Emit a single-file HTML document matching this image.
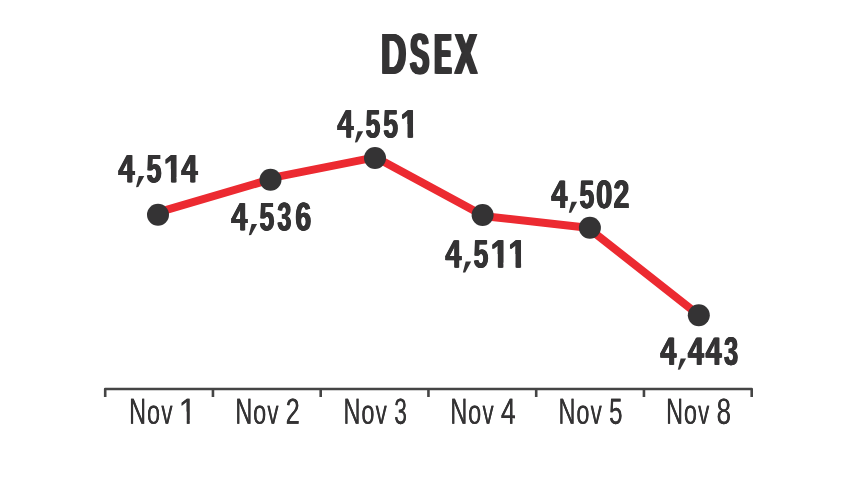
<!DOCTYPE html>
<html><head><meta charset="utf-8"><title>DSEX</title>
<style>
html,body{margin:0;padding:0;background:#fff;width:857px;height:482px;overflow:hidden}
svg{display:block;will-change:transform}
text{font-family:"Liberation Sans",sans-serif;font-kerning:none;text-rendering:geometricPrecision}
</style></head><body>
<svg width="857" height="482" viewBox="0 0 857 482">
<defs><clipPath id="b4_39_68_0" clipPathUnits="userSpaceOnUse"><rect x="-77.50" y="-5.81" width="155.00" height="77.50"/></clipPath><clipPath id="b4_39_68_1" clipPathUnits="userSpaceOnUse"><rect x="-77.50" y="-9.86" width="155.00" height="4.55"/></clipPath><clipPath id="b4_39_68_2" clipPathUnits="userSpaceOnUse"><rect x="-77.50" y="-77.50" width="155.00" height="68.14"/></clipPath><clipPath id="c3" clipPathUnits="userSpaceOnUse"><polygon points="1.55,-31.00 15.87,-31.00 15.87,-4.82 14.71,-4.82 14.71,-4.05 14.71,-4.05 14.71,1.94 9.49,1.94 9.49,-4.05 9.26,-4.05 9.26,-13.56 1.55,-13.56"/></clipPath><clipPath id="c4" clipPathUnits="userSpaceOnUse"><polygon points="1.55,-31.00 15.87,-31.00 15.87,-4.82 14.71,-4.82 14.71,-4.05 14.71,-4.05 14.71,1.94 9.49,1.94 9.49,-4.05 9.26,-4.05 9.26,-13.56 1.55,-13.56"/></clipPath><clipPath id="c5" clipPathUnits="userSpaceOnUse"><polygon points="1.55,-31.00 15.87,-31.00 15.87,-4.82 14.71,-4.82 14.71,-4.05 14.71,-4.05 14.71,1.94 9.49,1.94 9.49,-4.05 9.26,-4.05 9.26,-13.56 1.55,-13.56"/></clipPath><clipPath id="c6" clipPathUnits="userSpaceOnUse"><polygon points="1.55,-31.00 15.87,-31.00 15.87,-4.82 14.71,-4.82 14.71,-4.05 14.71,-4.05 14.71,1.94 9.49,1.94 9.49,-4.05 9.26,-4.05 9.26,-13.56 1.55,-13.56"/></clipPath><clipPath id="c7" clipPathUnits="userSpaceOnUse"><polygon points="2.43,-28.39 13.41,-28.39 13.41,-3.42 12.35,-3.42 12.35,-2.71 12.35,-2.71 12.35,1.77 9.35,1.77 9.35,-2.71 9.14,-2.71 9.14,-12.42 2.43,-12.42"/></clipPath></defs>
<rect width="857" height="482" fill="#ffffff"/>
<path d="M105.20,397 L105.20,389 L751.70,389 L751.70,397 M212.95,389 L212.95,397 M320.70,389 L320.70,397 M428.45,389 L428.45,397 M536.20,389 L536.20,397 M643.95,389 L643.95,397" fill="none" stroke="#454545" stroke-width="2.6" stroke-linecap="butt" stroke-linejoin="round"/>
<path d="M158.0,212.3 L270.5,179.4 L270.5,178.2 L375.0,157.4 L375.0,157.0 L482.6,215.3 L482.6,216.0 L589.9,228.0 L589.9,229.3 L698.8,315.2" fill="none" stroke="#ec2a31" stroke-width="8.0" stroke-linejoin="round"/>
<g fill="#343334"><circle cx="158.0" cy="214.8" r="11"/><circle cx="270.5" cy="179.7" r="11"/><circle cx="375.0" cy="158.0" r="11"/><circle cx="482.6" cy="215.0" r="11"/><circle cx="589.9" cy="227.8" r="11"/><circle cx="698.8" cy="315.2" r="11"/></g>
<g fill="#343334" font-family="Liberation Sans, sans-serif">
<g><text id="g0" transform="translate(379.83,73.80) scale(0.6117,1.0000) skewY(0.1)" font-size="57.85" font-weight="bold">D</text><use href="#g0" x="0.73"/><use href="#g0" x="1.47"/><use href="#g0" x="2.20"/><text id="g1" transform="translate(408.68,73.80) scale(0.4934,1.0000) skewY(0.1)" font-size="57.85" font-weight="bold">S</text><use href="#g1" x="0.93"/><use href="#g1" x="1.87"/><use href="#g1" x="2.80"/><text id="g2" transform="translate(433.05,73.80) scale(0.4252,1.0000) skewY(0.1)" font-size="57.85" font-weight="bold">E</text><use href="#g2" x="1.17"/><use href="#g2" x="2.33"/><use href="#g2" x="3.50"/><text id="g3" transform="translate(453.61,73.80) scale(0.5670,1.0000) skewY(0.1)" font-size="57.85" font-weight="bold">X</text><use href="#g3" x="0.93"/><use href="#g3" x="1.87"/><use href="#g3" x="2.80"/></g>
<g><text id="g4" transform="translate(117.86,182.30) scale(0.7246,1.3380) skewY(0.1)" font-size="39.68" font-weight="bold" clip-path="url(#b4_39_68_0)">4</text><use href="#g4" x="0.43"/><use href="#g4" x="0.87"/><use href="#g4" x="1.30"/><text id="g5" transform="translate(117.86,180.42) scale(0.7246,1.0000) skewY(0.1)" font-size="39.68" font-weight="bold" clip-path="url(#b4_39_68_1)">4</text><use href="#g5" x="0.43"/><use href="#g5" x="0.87"/><use href="#g5" x="1.30"/><text id="g6" transform="translate(117.86,179.40) scale(0.7246,0.8938) skewY(0.1)" font-size="39.68" font-weight="bold" clip-path="url(#b4_39_68_2)">4</text><use href="#g6" x="0.43"/><use href="#g6" x="0.87"/><use href="#g6" x="1.30"/><path d="M138.80,176.10 L144.30,176.10 L138.30,187.10 L136.00,187.20 Z"/><text id="g7" transform="translate(146.09,182.30) scale(0.6635,1.0000) skewY(0.1)" font-size="39.68" font-weight="bold">5</text><use href="#g7" x="0.43"/><use href="#g7" x="0.87"/><use href="#g7" x="1.30"/><text id="g8" transform="translate(163.18,182.30) scale(0.8171,1.0000) skewY(0.1)" font-size="39.68" font-weight="bold" clip-path="url(#c3)">1</text><use href="#g8" x="0.43"/><use href="#g8" x="0.87"/><use href="#g8" x="1.30"/><text id="g9" transform="translate(180.86,182.30) scale(0.7246,1.3380) skewY(0.1)" font-size="39.68" font-weight="bold" clip-path="url(#b4_39_68_0)">4</text><use href="#g9" x="0.43"/><use href="#g9" x="0.87"/><use href="#g9" x="1.30"/><text id="g10" transform="translate(180.86,180.42) scale(0.7246,1.0000) skewY(0.1)" font-size="39.68" font-weight="bold" clip-path="url(#b4_39_68_1)">4</text><use href="#g10" x="0.43"/><use href="#g10" x="0.87"/><use href="#g10" x="1.30"/><text id="g11" transform="translate(180.86,179.40) scale(0.7246,0.8938) skewY(0.1)" font-size="39.68" font-weight="bold" clip-path="url(#b4_39_68_2)">4</text><use href="#g11" x="0.43"/><use href="#g11" x="0.87"/><use href="#g11" x="1.30"/><text id="g12" transform="translate(230.66,230.30) scale(0.7246,1.3380) skewY(0.1)" font-size="39.68" font-weight="bold" clip-path="url(#b4_39_68_0)">4</text><use href="#g12" x="0.43"/><use href="#g12" x="0.87"/><use href="#g12" x="1.30"/><text id="g13" transform="translate(230.66,228.42) scale(0.7246,1.0000) skewY(0.1)" font-size="39.68" font-weight="bold" clip-path="url(#b4_39_68_1)">4</text><use href="#g13" x="0.43"/><use href="#g13" x="0.87"/><use href="#g13" x="1.30"/><text id="g14" transform="translate(230.66,227.40) scale(0.7246,0.8938) skewY(0.1)" font-size="39.68" font-weight="bold" clip-path="url(#b4_39_68_2)">4</text><use href="#g14" x="0.43"/><use href="#g14" x="0.87"/><use href="#g14" x="1.30"/><path d="M251.60,224.10 L257.10,224.10 L251.10,235.10 L248.80,235.20 Z"/><text id="g15" transform="translate(258.89,230.30) scale(0.6635,1.0000) skewY(0.1)" font-size="39.68" font-weight="bold">5</text><use href="#g15" x="0.43"/><use href="#g15" x="0.87"/><use href="#g15" x="1.30"/><text id="g16" transform="translate(276.72,230.30) scale(0.6338,1.0000) skewY(0.1)" font-size="39.68" font-weight="bold">3</text><use href="#g16" x="0.43"/><use href="#g16" x="0.87"/><use href="#g16" x="1.30"/><text id="g17" transform="translate(294.65,230.30) scale(0.7194,1.0000) skewY(0.1)" font-size="39.68" font-weight="bold">6</text><use href="#g17" x="0.43"/><use href="#g17" x="0.87"/><use href="#g17" x="1.30"/><text id="g18" transform="translate(336.76,137.50) scale(0.7246,1.3380) skewY(0.1)" font-size="39.68" font-weight="bold" clip-path="url(#b4_39_68_0)">4</text><use href="#g18" x="0.43"/><use href="#g18" x="0.87"/><use href="#g18" x="1.30"/><text id="g19" transform="translate(336.76,135.62) scale(0.7246,1.0000) skewY(0.1)" font-size="39.68" font-weight="bold" clip-path="url(#b4_39_68_1)">4</text><use href="#g19" x="0.43"/><use href="#g19" x="0.87"/><use href="#g19" x="1.30"/><text id="g20" transform="translate(336.76,134.60) scale(0.7246,0.8938) skewY(0.1)" font-size="39.68" font-weight="bold" clip-path="url(#b4_39_68_2)">4</text><use href="#g20" x="0.43"/><use href="#g20" x="0.87"/><use href="#g20" x="1.30"/><path d="M357.70,131.30 L363.20,131.30 L357.20,142.30 L354.90,142.40 Z"/><text id="g21" transform="translate(364.99,137.50) scale(0.6635,1.0000) skewY(0.1)" font-size="39.68" font-weight="bold">5</text><use href="#g21" x="0.43"/><use href="#g21" x="0.87"/><use href="#g21" x="1.30"/><text id="g22" transform="translate(382.69,137.50) scale(0.6635,1.0000) skewY(0.1)" font-size="39.68" font-weight="bold">5</text><use href="#g22" x="0.43"/><use href="#g22" x="0.87"/><use href="#g22" x="1.30"/><text id="g23" transform="translate(399.78,137.50) scale(0.8171,1.0000) skewY(0.1)" font-size="39.68" font-weight="bold" clip-path="url(#c4)">1</text><use href="#g23" x="0.43"/><use href="#g23" x="0.87"/><use href="#g23" x="1.30"/><text id="g24" transform="translate(444.76,267.60) scale(0.7246,1.3380) skewY(0.1)" font-size="39.68" font-weight="bold" clip-path="url(#b4_39_68_0)">4</text><use href="#g24" x="0.43"/><use href="#g24" x="0.87"/><use href="#g24" x="1.30"/><text id="g25" transform="translate(444.76,265.72) scale(0.7246,1.0000) skewY(0.1)" font-size="39.68" font-weight="bold" clip-path="url(#b4_39_68_1)">4</text><use href="#g25" x="0.43"/><use href="#g25" x="0.87"/><use href="#g25" x="1.30"/><text id="g26" transform="translate(444.76,264.70) scale(0.7246,0.8938) skewY(0.1)" font-size="39.68" font-weight="bold" clip-path="url(#b4_39_68_2)">4</text><use href="#g26" x="0.43"/><use href="#g26" x="0.87"/><use href="#g26" x="1.30"/><path d="M465.70,261.40 L471.20,261.40 L465.20,272.40 L462.90,272.50 Z"/><text id="g27" transform="translate(472.99,267.60) scale(0.6635,1.0000) skewY(0.1)" font-size="39.68" font-weight="bold">5</text><use href="#g27" x="0.43"/><use href="#g27" x="0.87"/><use href="#g27" x="1.30"/><text id="g28" transform="translate(490.08,267.60) scale(0.8171,1.0000) skewY(0.1)" font-size="39.68" font-weight="bold" clip-path="url(#c5)">1</text><use href="#g28" x="0.43"/><use href="#g28" x="0.87"/><use href="#g28" x="1.30"/><text id="g29" transform="translate(507.78,267.60) scale(0.8171,1.0000) skewY(0.1)" font-size="39.68" font-weight="bold" clip-path="url(#c6)">1</text><use href="#g29" x="0.43"/><use href="#g29" x="0.87"/><use href="#g29" x="1.30"/><text id="g30" transform="translate(550.66,207.90) scale(0.7246,1.3380) skewY(0.1)" font-size="39.68" font-weight="bold" clip-path="url(#b4_39_68_0)">4</text><use href="#g30" x="0.43"/><use href="#g30" x="0.87"/><use href="#g30" x="1.30"/><text id="g31" transform="translate(550.66,206.02) scale(0.7246,1.0000) skewY(0.1)" font-size="39.68" font-weight="bold" clip-path="url(#b4_39_68_1)">4</text><use href="#g31" x="0.43"/><use href="#g31" x="0.87"/><use href="#g31" x="1.30"/><text id="g32" transform="translate(550.66,205.00) scale(0.7246,0.8938) skewY(0.1)" font-size="39.68" font-weight="bold" clip-path="url(#b4_39_68_2)">4</text><use href="#g32" x="0.43"/><use href="#g32" x="0.87"/><use href="#g32" x="1.30"/><path d="M571.60,201.70 L577.10,201.70 L571.10,212.70 L568.80,212.80 Z"/><text id="g33" transform="translate(578.89,207.90) scale(0.6635,1.0000) skewY(0.1)" font-size="39.68" font-weight="bold">5</text><use href="#g33" x="0.43"/><use href="#g33" x="0.87"/><use href="#g33" x="1.30"/><text id="g34" transform="translate(595.44,207.90) scale(0.7366,1.0000) skewY(0.1)" font-size="39.68" font-weight="bold">0</text><use href="#g34" x="0.43"/><use href="#g34" x="0.87"/><use href="#g34" x="1.30"/><text id="g35" transform="translate(612.92,207.90) scale(0.7119,1.0000) skewY(0.1)" font-size="39.68" font-weight="bold">2</text><use href="#g35" x="0.43"/><use href="#g35" x="0.87"/><use href="#g35" x="1.30"/><text id="g36" transform="translate(659.66,364.80) scale(0.7246,1.3380) skewY(0.1)" font-size="39.68" font-weight="bold" clip-path="url(#b4_39_68_0)">4</text><use href="#g36" x="0.43"/><use href="#g36" x="0.87"/><use href="#g36" x="1.30"/><text id="g37" transform="translate(659.66,362.92) scale(0.7246,1.0000) skewY(0.1)" font-size="39.68" font-weight="bold" clip-path="url(#b4_39_68_1)">4</text><use href="#g37" x="0.43"/><use href="#g37" x="0.87"/><use href="#g37" x="1.30"/><text id="g38" transform="translate(659.66,361.90) scale(0.7246,0.8938) skewY(0.1)" font-size="39.68" font-weight="bold" clip-path="url(#b4_39_68_2)">4</text><use href="#g38" x="0.43"/><use href="#g38" x="0.87"/><use href="#g38" x="1.30"/><path d="M680.60,358.60 L686.10,358.60 L680.10,369.60 L677.80,369.70 Z"/><text id="g39" transform="translate(687.26,364.80) scale(0.7246,1.3380) skewY(0.1)" font-size="39.68" font-weight="bold" clip-path="url(#b4_39_68_0)">4</text><use href="#g39" x="0.43"/><use href="#g39" x="0.87"/><use href="#g39" x="1.30"/><text id="g40" transform="translate(687.26,362.92) scale(0.7246,1.0000) skewY(0.1)" font-size="39.68" font-weight="bold" clip-path="url(#b4_39_68_1)">4</text><use href="#g40" x="0.43"/><use href="#g40" x="0.87"/><use href="#g40" x="1.30"/><text id="g41" transform="translate(687.26,361.90) scale(0.7246,0.8938) skewY(0.1)" font-size="39.68" font-weight="bold" clip-path="url(#b4_39_68_2)">4</text><use href="#g41" x="0.43"/><use href="#g41" x="0.87"/><use href="#g41" x="1.30"/><text id="g42" transform="translate(704.96,364.80) scale(0.7246,1.3380) skewY(0.1)" font-size="39.68" font-weight="bold" clip-path="url(#b4_39_68_0)">4</text><use href="#g42" x="0.43"/><use href="#g42" x="0.87"/><use href="#g42" x="1.30"/><text id="g43" transform="translate(704.96,362.92) scale(0.7246,1.0000) skewY(0.1)" font-size="39.68" font-weight="bold" clip-path="url(#b4_39_68_1)">4</text><use href="#g43" x="0.43"/><use href="#g43" x="0.87"/><use href="#g43" x="1.30"/><text id="g44" transform="translate(704.96,361.90) scale(0.7246,0.8938) skewY(0.1)" font-size="39.68" font-weight="bold" clip-path="url(#b4_39_68_2)">4</text><use href="#g44" x="0.43"/><use href="#g44" x="0.87"/><use href="#g44" x="1.30"/><text id="g45" transform="translate(723.42,364.80) scale(0.6338,1.0000) skewY(0.1)" font-size="39.68" font-weight="bold">3</text><use href="#g45" x="0.43"/><use href="#g45" x="0.87"/><use href="#g45" x="1.30"/></g>
<g><text id="g46" transform="translate(129.08,423.80) scale(0.6454,1.0000) skewY(0.1)" font-size="36.34">N</text><use href="#g46" x="0.20"/><text id="g47" transform="translate(146.91,423.80) scale(0.6470,0.9390) skewY(0.1)" font-size="36.34">o</text><use href="#g47" x="0.20"/><text id="g48" transform="translate(161.22,423.80) scale(0.6138,0.9390) skewY(0.1)" font-size="36.34">v</text><use href="#g48" x="0.20"/><text id="g49" transform="translate(178.52,423.80) scale(0.8810,1.0000) skewY(0.1)" font-size="36.34" clip-path="url(#c7)">1</text><use href="#g49" x="0.20"/><text id="g50" transform="translate(235.18,423.80) scale(0.6454,1.0000) skewY(0.1)" font-size="36.34">N</text><use href="#g50" x="0.20"/><text id="g51" transform="translate(253.01,423.80) scale(0.6470,0.9390) skewY(0.1)" font-size="36.34">o</text><use href="#g51" x="0.20"/><text id="g52" transform="translate(267.32,423.80) scale(0.6138,0.9390) skewY(0.1)" font-size="36.34">v</text><use href="#g52" x="0.20"/><text id="g53" transform="translate(285.62,423.80) scale(0.7007,1.0000) skewY(0.1)" font-size="36.34">2</text><use href="#g53" x="0.20"/><text id="g54" transform="translate(343.38,423.80) scale(0.6454,1.0000) skewY(0.1)" font-size="36.34">N</text><use href="#g54" x="0.20"/><text id="g55" transform="translate(361.21,423.80) scale(0.6470,0.9390) skewY(0.1)" font-size="36.34">o</text><use href="#g55" x="0.20"/><text id="g56" transform="translate(375.52,423.80) scale(0.6138,0.9390) skewY(0.1)" font-size="36.34">v</text><use href="#g56" x="0.20"/><text id="g57" transform="translate(394.13,423.80) scale(0.6269,1.0000) skewY(0.1)" font-size="36.34">3</text><use href="#g57" x="0.20"/><text id="g58" transform="translate(450.28,423.80) scale(0.6454,1.0000) skewY(0.1)" font-size="36.34">N</text><use href="#g58" x="0.20"/><text id="g59" transform="translate(468.11,423.80) scale(0.6470,0.9390) skewY(0.1)" font-size="36.34">o</text><use href="#g59" x="0.20"/><text id="g60" transform="translate(482.42,423.80) scale(0.6138,0.9390) skewY(0.1)" font-size="36.34">v</text><use href="#g60" x="0.20"/><text id="g61" transform="translate(500.69,423.80) scale(0.7318,1.0000) skewY(0.1)" font-size="36.34">4</text><use href="#g61" x="0.20"/><text id="g62" transform="translate(558.38,423.80) scale(0.6454,1.0000) skewY(0.1)" font-size="36.34">N</text><use href="#g62" x="0.20"/><text id="g63" transform="translate(576.21,423.80) scale(0.6470,0.9390) skewY(0.1)" font-size="36.34">o</text><use href="#g63" x="0.20"/><text id="g64" transform="translate(590.52,423.80) scale(0.6138,0.9390) skewY(0.1)" font-size="36.34">v</text><use href="#g64" x="0.20"/><text id="g65" transform="translate(609.04,423.80) scale(0.6617,1.0000) skewY(0.1)" font-size="36.34">5</text><use href="#g65" x="0.20"/><text id="g66" transform="translate(665.98,423.80) scale(0.6454,1.0000) skewY(0.1)" font-size="36.34">N</text><use href="#g66" x="0.20"/><text id="g67" transform="translate(683.81,423.80) scale(0.6470,0.9390) skewY(0.1)" font-size="36.34">o</text><use href="#g67" x="0.20"/><text id="g68" transform="translate(698.12,423.80) scale(0.6138,0.9390) skewY(0.1)" font-size="36.34">v</text><use href="#g68" x="0.20"/><text id="g69" transform="translate(716.48,423.80) scale(0.7096,1.0000) skewY(0.1)" font-size="36.34">8</text><use href="#g69" x="0.20"/></g>
</g>
</svg>
</body></html>
